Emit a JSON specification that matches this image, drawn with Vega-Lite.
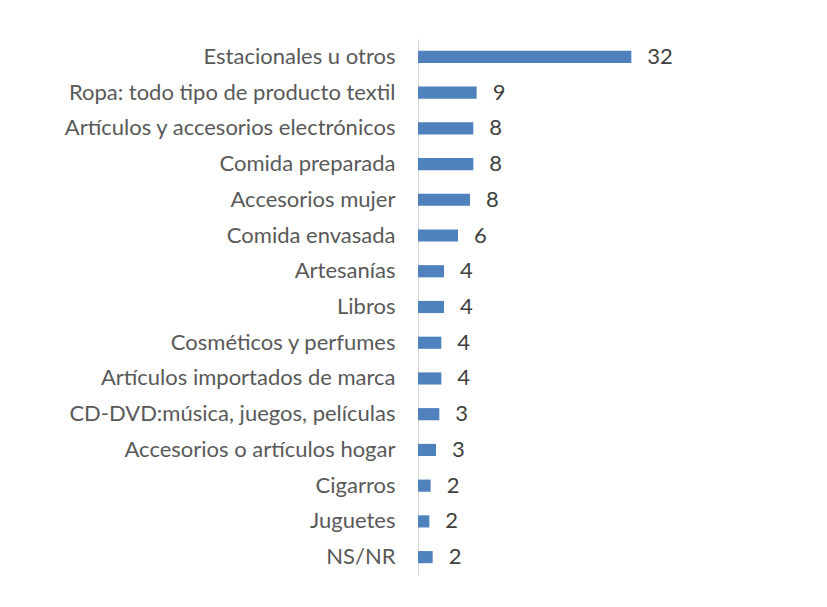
{
  "$schema": "https://vega.github.io/schema/vega-lite/v6.json",
  "autosize": "none",
  "width": 400,
  "height": 536,
  "padding": {"left": 418, "top": 39, "right": 9, "bottom": 32},
  "background": "white",
  "config": {"view": {"stroke": null}, "font": "Lato"},
  "data": {"values": [
    {"categoria": "Estacionales u otros", "valor": 32.0},
    {"categoria": "Ropa: todo tipo de producto textil", "valor": 8.8},
    {"categoria": "Artículos y accesorios electrónicos", "valor": 8.3},
    {"categoria": "Comida preparada", "valor": 8.3},
    {"categoria": "Accesorios mujer", "valor": 7.8},
    {"categoria": "Comida envasada", "valor": 6.0},
    {"categoria": "Artesanías", "valor": 3.9},
    {"categoria": "Libros", "valor": 3.9},
    {"categoria": "Cosméticos y perfumes", "valor": 3.5},
    {"categoria": "Artículos importados de marca", "valor": 3.5},
    {"categoria": "CD-DVD:música, juegos, películas", "valor": 3.2},
    {"categoria": "Accesorios o artículos hogar", "valor": 2.7},
    {"categoria": "Cigarros", "valor": 1.9},
    {"categoria": "Juguetes", "valor": 1.7},
    {"categoria": "NS/NR", "valor": 2.2}
  ]},
  "encoding": {
    "y": {
      "field": "categoria", "type": "nominal", "sort": null,
      "scale": {"paddingInner": 0.66, "paddingOuter": 0.33},
      "axis": {"title": null, "ticks": false, "domainColor": "#d9d9d9", "labelFontSize": 22, "labelColor": "#595959", "labelPadding": 23, "labelLimit": 400}
    },
    "x": {
      "field": "valor", "type": "quantitative",
      "scale": {"domain": [0, 60], "nice": false},
      "axis": null
    }
  },
  "layer": [
    {"mark": {"type": "bar", "color": "#4f81bd"}},
    {"mark": {"type": "text", "align": "left", "dx": 16, "fontSize": 22, "color": "#404040"},
     "encoding": {"text": {"field": "valor", "type": "quantitative", "format": ".0f"}}}
  ]
}
